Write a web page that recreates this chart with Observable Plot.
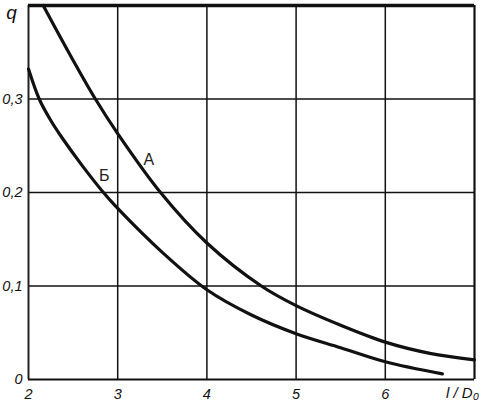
<!DOCTYPE html>
<html><head><meta charset="utf-8">
<script src="https://cdn.jsdelivr.net/npm/d3@7"></script>
<script src="https://cdn.jsdelivr.net/npm/@observablehq/plot@0.6"></script>
<style>body{margin:0;background:#fff}</style>
</head><body><div id="chart"></div>
<script>
const xTicks = [2, 3, 4, 5, 6];
const yTicks = [0, 0.1, 0.2, 0.3];
const yTickLabels = ["0", "0,1", "0,2", "0,3"];
const xA = [2.165, 2.45, 2.75, 3.0, 3.48, 4.0, 4.61, 5.0, 5.5, 6.0, 6.5, 7.0];
const qA = [0.4, 0.35, 0.3, 0.263, 0.2, 0.146, 0.1, 0.079, 0.058, 0.040, 0.028, 0.021];
const xB = [2.0, 2.12, 2.25, 2.38, 2.6, 2.84, 3.0, 3.5, 4.0, 4.5, 5.0, 5.5, 6.0, 6.64];
const qB = [0.332, 0.3, 0.277, 0.258, 0.229, 0.2, 0.183, 0.136, 0.096, 0.069, 0.049, 0.034, 0.019, 0.006];
const curveLabels = [{x: 3.35, q: 0.235, t: "А"}, {x: 2.85, q: 0.218, t: "Б"}];

const A = xA.map((x, i) => ({x, q: qA[i]}));
const B = xB.map((x, i) => ({x, q: qB[i]}));
const yT = yTicks.map((v, i) => ({v, t: yTickLabels[i]}));
const ital = {fontStyle: "italic", fontFamily: "Liberation Sans, Arial, sans-serif", fill: "#111"};

const chart = Plot.plot({
  width: 482, height: 405,
  marginLeft: 28, marginRight: 8, marginTop: 5, marginBottom: 26,
  x: {domain: [2, 7], axis: null},
  y: {domain: [0, 0.4], axis: null},
  style: {background: "#fff"},
  marks: [
    Plot.ruleX(xTicks.slice(1), {stroke: "#111", strokeWidth: 1.5}),
    Plot.ruleY(yTicks.slice(1), {stroke: "#111", strokeWidth: 1.5}),
    Plot.ruleX([2], {stroke: "#222", strokeWidth: 2}),
    Plot.ruleX([7], {stroke: "#111", strokeWidth: 2.2}),
    Plot.ruleY([0], {stroke: "#111", strokeWidth: 2}),
    Plot.ruleY([0.4], {stroke: "#111", strokeWidth: 3.5}),
    Plot.line(A, {x: "x", y: "q", stroke: "#111", strokeWidth: 3.2, curve: "catmull-rom"}),
    Plot.line(B, {x: "x", y: "q", stroke: "#111", strokeWidth: 3.2, curve: "catmull-rom"}),
    Plot.text(curveLabels, {x: "x", y: "q", text: "t", fontSize: 16, fontFamily: "Liberation Sans, Arial, sans-serif", fill: "#222"}),
    Plot.text(yT, {x: () => 2, y: "v", text: "t", dx: -6, textAnchor: "end", fontSize: 14.5, ...ital}),
    Plot.text(xTicks, {x: d => d, y: () => 0, text: d => String(d), dy: 15, fontSize: 14.5, ...ital}),
    Plot.text(["q"], {x: () => 2, y: () => 0.4, text: d => d, dx: -17, dy: 7, fontSize: 19, ...ital}),
    Plot.text(["l / D₀"], {x: () => 7, y: () => 0, text: d => d, dx: -12, dy: 14, fontSize: 15, ...ital})
  ]
});
document.getElementById("chart").appendChild(chart);
</script>
</body></html>
